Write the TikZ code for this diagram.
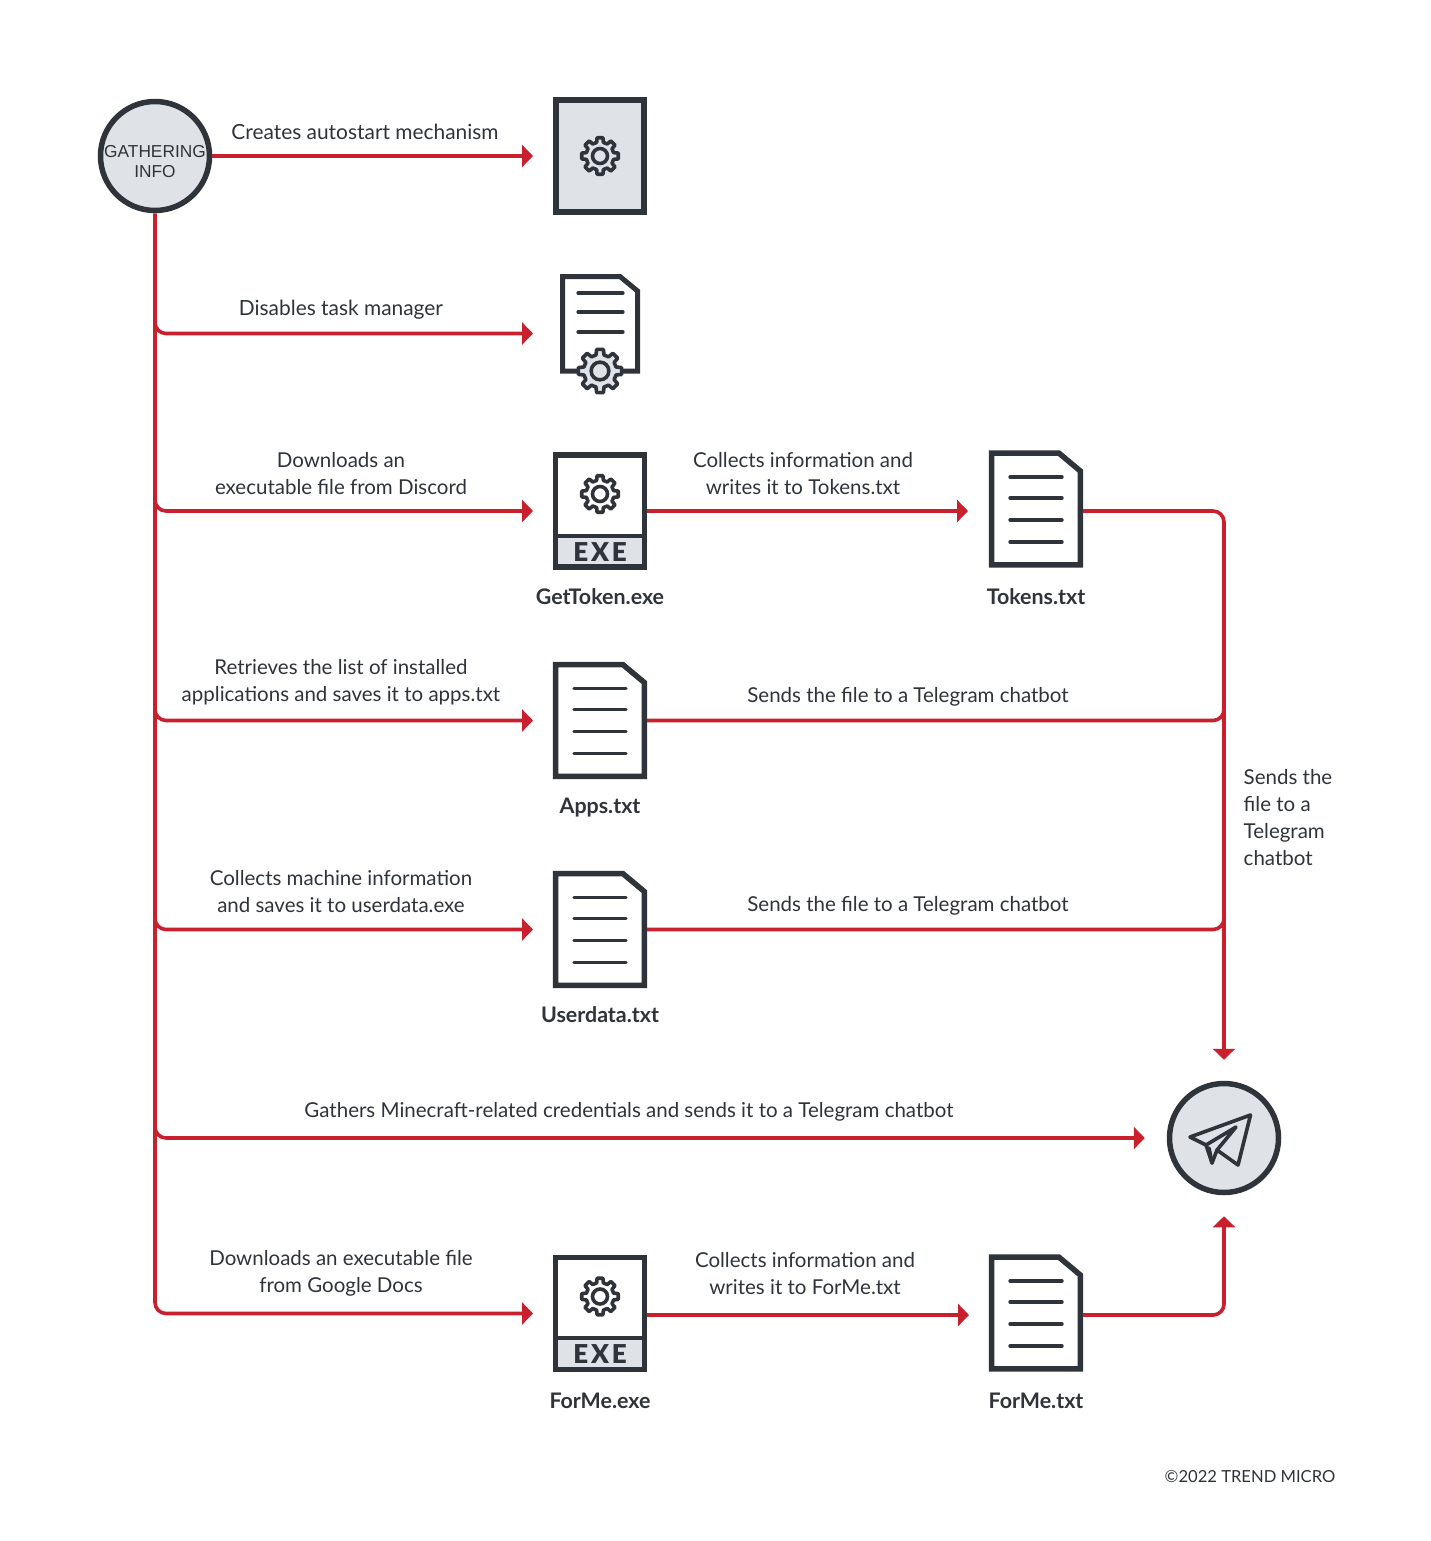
\documentclass[tikz,border=0pt]{standalone}
\usepackage{fontspec}
\setmainfont{Lato}
\newfontfamily\gatherfont{Liberation Sans}
\newfontfamily\exefont[LetterSpace=11]{Lato Black}
\usetikzlibrary{arrows.meta,calc}
\definecolor{ink}{HTML}{2F343A}
\definecolor{pale}{HTML}{DFE3E8}
\definecolor{redline}{HTML}{C8202D}
\tikzset{
  x=1pt,y=-1pt,
  conn/.style={draw=redline,line width=3.6pt,rounded corners=11pt},
  redtip/.style={-{Triangle[length=11pt,width=22pt]}},
  lbl/.style={text=ink,font=\fontsize{20.5}{27}\selectfont,align=center,inner sep=0pt},
  lblwide/.style={lbl,font=\fontsize{20.9}{27}\selectfont},
  captxt/.style={text=ink,font=\fontsize{21.4}{27}\selectfont\bfseries,align=center,inner sep=0pt,text height=15pt,text depth=5pt,yshift=-2.3pt},
  hub/.style={circle,draw=ink,fill=pale,line width=5.5pt,minimum size=109pt,inner sep=0pt},
  slot/.style={minimum width=94pt,minimum height=117pt,inner sep=0pt,outer sep=0pt},
  gearpic/.pic={
    \draw[draw=ink,fill=#1,line width=3.6pt,line join=round]
      (-14+0:14) \foreach \a in {0,45,...,315}{ -- (\a-14:14) -- (\a-9:18.5) -- (\a+9:18.5) -- (\a+14:14)} -- cycle;
    \draw[draw=ink,fill=#1,line width=3.6pt] (0,0) circle[radius=7.5];
  },
  docpic/.pic={
    \draw[ink,line width=5.5pt,line join=miter,fill=white]
      (-44.3,-55.8) -- (23,-55.8) -- (44.3,-38) -- (44.3,55.8) -- (-44.3,55.8) -- cycle;
    \foreach \y in {-32,-11,11,33}
      \draw[ink,line width=3.4pt,line cap=round] (-26,\y) -- (26,\y);
  },
  cardpic/.pic={
    \draw[ink,line width=6pt,fill=pale] (-44,-55.5) rectangle (44,55.5);
  },
  exepic/.pic={
    \draw[ink,line width=5.5pt,fill=white] (-44.3,-55.8) rectangle (44.3,55.8);
    \draw[ink,line width=4pt,fill=pale] (-44.3,24.5) rectangle (44.3,55.8);
    \draw[ink,line width=5.5pt] (-44.3,-55.8) rectangle (44.3,55.8);
    \path (0,-17) pic {gearpic=white};
    \node[text=ink,font=\fontsize{26}{26}\exefont,inner sep=0pt] (#1) at (0,41) {EXE};
  },
}
\begin{document}
\begin{tikzpicture}
\useasboundingbox (0,0) rectangle (1430,1541);
\fill[white] (0,0) rectangle (1430,1541);

% main nodes
\node[hub] (gather) at (155,156) {};
\node[text=ink,align=center,inner sep=0pt,font=\gatherfont\fontsize{17.3}{20}\selectfont] (gathertext) at (155,161.5) {GATHERING\\INFO};
\node[slot] (autostart) at (600,156) {};
\node[slot,minimum width=80pt] (taskmgr) at (600,333.5) {};
\node[slot] (gettoken) at (600,511) {};
\node[slot] (tokens) at (1036,509) {};
\node[slot] (apps) at (600,720.5) {};
\node[slot] (userdata) at (600,929.5) {};
\node[slot] (forme) at (600,1313.5) {};
\node[slot] (formetxt) at (1036,1313) {};
\node[hub] (telegram) at (1224,1138) {};

% icons
\path (autostart) pic {cardpic};
\path (autostart) pic {gearpic=pale};
\draw[ink,line width=5pt,line join=miter]
  (584,371) -- (562.5,371) -- (562.5,276.5) -- (620,276.5) -- (637.5,291) -- (637.5,371) -- (616,371);
\foreach \y in {293,312,332}
  \draw[ink,line width=3.2pt,line cap=round] (578,\y) -- (623,\y);
\path (600,371) pic[scale=1.18] {gearpic=pale};
\path (gettoken) pic {exepic=exeone};
\path (tokens) pic {docpic};
\path (apps) pic {docpic};
\path (userdata) pic {docpic};
\path (forme) pic {exepic=exetwo};
\path (formetxt) pic {docpic};

% telegram icon
\begin{scope}[shift={(telegram)},ink,line width=3.6pt,line join=round,line cap=round]
  \draw (26.5,-23) -- (-34,-1) -- (-18,7) -- (-12,25) -- (-7,12) -- (14,27) -- cycle;
  \draw (-18,7) -- (12,-11) -- (-7,12);
  \draw (-12,25) -- (-15,10);
\end{scope}

% trunk points
\coordinate (b2) at (155,318);
\coordinate (b3) at (155,496);
\coordinate (b4) at (155,705);
\coordinate (b5) at (155,914);
\coordinate (b6) at (155,1123);
\coordinate (m1) at (1224,705);
\coordinate (m2) at (1224,914);

% connectors
\draw[conn,redtip,shorten >=20pt] (gather) -- (autostart);
\draw[conn,redtip,shorten >=20pt] (gather.south) |- (forme.west);
\draw[conn,redtip,shorten >=27pt] (b2) |- (taskmgr.west);
\draw[conn,redtip,shorten >=20pt] (b3) |- (gettoken.west);
\draw[conn,redtip,shorten >=20pt] (b4) |- (apps.west);
\draw[conn,redtip,shorten >=20pt] (b5) |- (userdata.west);
\draw[conn,redtip,shorten >=22pt] (b6) |- (telegram.west);
\draw[conn,redtip,shorten >=21pt] (gettoken.east) -- (tokens.west |- gettoken.east);
\draw[conn,redtip,shorten >=20pt] (forme.east |- 0,1315) -- (formetxt.west |- 0,1315);
\draw[conn,redtip,shorten >=21pt] (tokens.east |- gettoken.east) -| (telegram.north);
\draw[conn] (apps.east) -| (m1);
\draw[conn] (userdata.east) -| (m2);
\draw[conn,redtip,shorten >=21pt] (formetxt.east |- 0,1315) -| (telegram.south);

% labels
\node[lblwide] (l1) at (365,131.5) {Creates autostart mechanism};
\node[lblwide] (l2) at (341,310.2) {Disables task manager};
\node[lbl] (l3) at (341,473.2) {Downloads an\\executable file from Discord};
\node[lbl] (l4) at (803,473.2) {Collects information and\\writes it to Tokens.txt};
\node[captxt] (c1) at (600,597) {GetToken.exe};
\node[captxt] (c2) at (1036,597) {Tokens.txt};
\node[lbl] (l5) at (341,682.5) {Retrieves the list of installed\\applications and saves it to apps.txt};
\node[lbl] (l6) at (908,696.5) {Sends the file to a Telegram chatbot};
\node[captxt] (c3) at (600,806) {Apps.txt};
\node[lbl] (l7) at (341,891.2) {Collects machine information\\and saves it to userdata.exe};
\node[lbl] (l8) at (908,905.5) {Sends the file to a Telegram chatbot};
\node[captxt] (c4) at (600,1015) {Userdata.txt};
\node[lbl,align=left,anchor=west] (l9) at (1243.5,817.5) {Sends the\\file to a\\Telegram\\chatbot};
\node[lbl] (l10) at (629,1112) {Gathers Minecraft-related credentials and sends it to a Telegram chatbot};
\node[lbl] (l11) at (341,1273.2) {Downloads an executable file\\from Google Docs};
\node[lbl] (l12) at (805,1273.2) {Collects information and\\writes it to ForMe.txt};
\node[captxt] (c5) at (600,1401) {ForMe.exe};
\node[captxt] (c6) at (1036,1401) {ForMe.txt};
\node[text=ink,font=\fontsize{16.6}{20}\selectfont,inner sep=0pt] (copy) at (1250,1477) {©2022 TREND MICRO};
\end{tikzpicture}
\end{document}
